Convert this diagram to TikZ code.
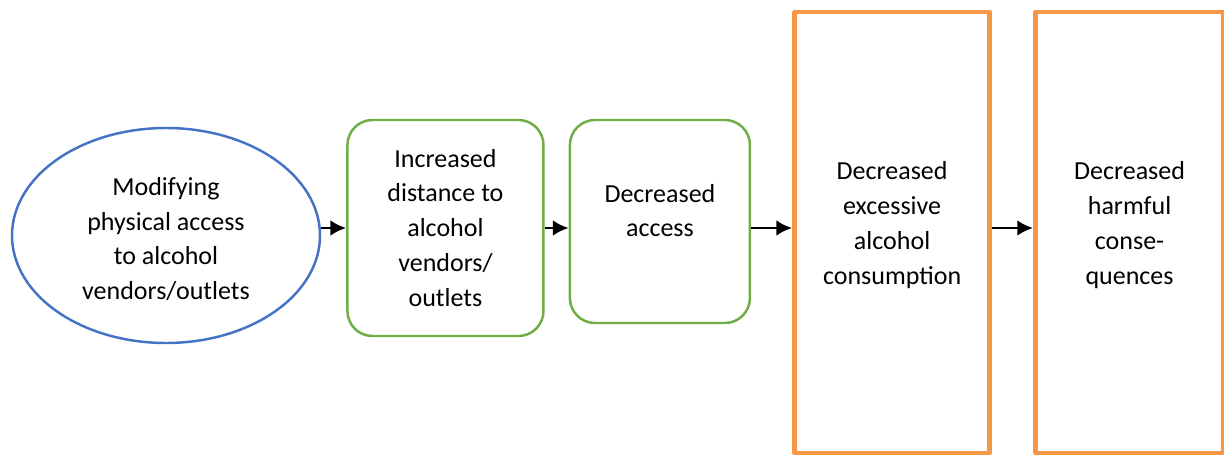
\documentclass[tikz,border=0pt]{standalone}
\usepackage{fontspec}
\setmainfont{Carlito}
\usepackage{tikz}
\usetikzlibrary{shapes.geometric, arrows.meta, positioning}

\definecolor{ovalblue}{HTML}{4472C4}
\definecolor{boxgreen}{HTML}{70AD47}
\definecolor{outorange}{HTML}{F79646}

% text block shifted up/down inside its node
\newcommand{\liftup}[2]{\raisebox{#1}[\height][\depth]{\begin{tabular}{@{}c@{}}#2\end{tabular}}}

\begin{document}
\begin{tikzpicture}[node distance=0.56cm, auto, >={Latex[length=9pt,width=9pt]},
    every node/.style={font=\fontsize{14.8}{19.9}\selectfont},
    oval/.style={ellipse, draw=ovalblue, line width=1.4pt, minimum width=6.16cm, minimum height=4.3cm, align=center},
    block/.style={rectangle, draw=boxgreen, line width=1.4pt, rounded corners=0.5cm, align=center},
    outcome/.style={rectangle, draw=outorange, line width=2.8pt, line join=round, minimum height=8.82cm, align=center},
    line/.style={draw, ->, line width=1.7pt}]
    \useasboundingbox (0,0) rectangle (24.48,-9.12);

    \node [oval] (modify) at (3.32,-4.71) {\liftup{-0.1cm}{Modifying\\physical access\\to alcohol\\vendors/outlets}};
    \node [block, minimum width=3.92cm, minimum height=4.32cm, right=0.5cm of modify, yshift=0.15cm] (distance) {Increased\\distance to\\alcohol\\vendors/\\outlets};
    \node [block, minimum width=3.6cm, minimum height=4.06cm, right=0.48cm of distance, yshift=0.13cm] (access) {\liftup{0.18cm}{Decreased\\access}};
    \node [outcome, minimum width=3.9cm, right=0.82cm of access, yshift=-0.22cm] (drinking) {\liftup{0.15cm}{Decreased\\excessive\\alcohol\\consumption}};
    \node [outcome, minimum width=3.76cm, right=0.82cm of drinking] (harms) {\liftup{0.15cm}{Decreased\\harmful\\conse-\\quences}};

    \path [line] (modify.east |- distance) -- (distance);
    \path [line] (distance) -- (distance -| access.west);
    \path [line] (access.east |- distance) -- (distance -| drinking.west);
    \path [line] (drinking.east |- distance) -- (distance -| harms.west);
\end{tikzpicture}
\end{document}
